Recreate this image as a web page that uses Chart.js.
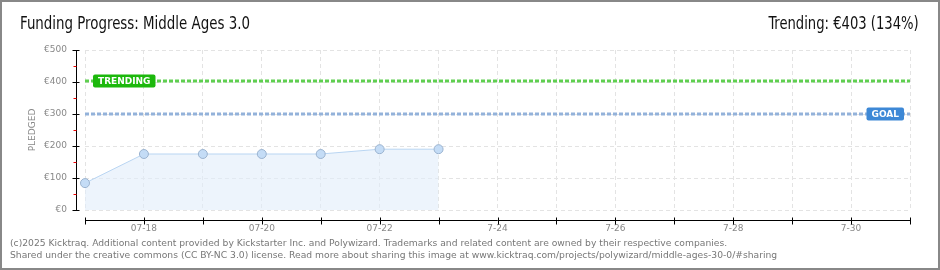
<!DOCTYPE html>
<html><head><meta charset="utf-8">
<script src="https://cdn.jsdelivr.net/npm/chart.js@4/dist/chart.umd.min.js"></script>
<style>
html,body{margin:0;padding:0;background:#fff;}
#wrap{position:relative;width:940px;height:270px;overflow:hidden;}
#frame{position:absolute;left:0;top:0;width:940px;height:270px;box-sizing:border-box;border:2px solid #888;pointer-events:none;}
canvas{position:absolute;left:0;top:0;}
.title{position:absolute;top:13px;font-family:"Liberation Sans Narrow","DejaVu Sans Condensed",sans-serif;font-size:17px;color:#111;white-space:nowrap;}
#tl{left:20px;transform:scaleX(0.875);transform-origin:left center;}
#tr{right:21px;transform:scaleX(0.86);transform-origin:right center;}
.foot{position:absolute;left:10px;font-family:"DejaVu Sans",sans-serif;font-size:9.2px;color:#777;white-space:nowrap;}
</style></head>
<body>
<div id="wrap">
<canvas id="c" width="940" height="270"></canvas>
<div class="title" id="tl">Funding Progress: Middle Ages 3.0</div>
<div class="title" id="tr">Trending: €403 (134%)</div>
<div class="foot" style="top:237px">(c)2025 Kicktraq. Additional content provided by Kickstarter Inc. and Polywizard. Trademarks and related content are owned by their respective companies.</div>
<div class="foot" style="top:249px">Shared under the creative commons (CC BY-NC 3.0) license. Read more about sharing this image at www.kicktraq.com/projects/polywizard/middle-ages-30-0/#sharing</div>
<div id="frame"></div>
</div>
<script>
const dates = ['07-17','07-18','07-19','07-20','07-21','07-22','07-23','07-24','07-25','07-26','07-27','07-28','07-29','07-30','07-31'];
const tickLabels = ['','07-18','','07-20','','07-22','','7-24','','7-26','','7-28','','7-30',''];
const pledged = [84,175,175,175,175,190,190];
const trendValue = 403;
const goalValue = 300;
const yTicks = [0,100,200,300,400,500];

const trendLine = dates.map(()=>trendValue);
const goalLine = dates.map(()=>goalValue);

const axesPlugin = {
  id:'customAxes',
  afterDraw(chart){
    const ctx = chart.ctx, a = chart.chartArea;
    const xs = chart.scales.x, ys = chart.scales.y;
    ctx.save();
    ctx.strokeStyle = '#000'; ctx.lineWidth = 1;
    const ax = Math.round(a.left) - 8.5;
    ctx.beginPath(); ctx.moveTo(ax, ys.getPixelForValue(500)); ctx.lineTo(ax, ys.getPixelForValue(0)+1); ctx.stroke();
    yTicks.forEach(v=>{
      const y = Math.round(ys.getPixelForValue(v))+0.5;
      ctx.strokeStyle='#000'; ctx.beginPath(); ctx.moveTo(ax-4, y); ctx.lineTo(ax+3, y); ctx.stroke();
      if (v < 500){
        const ym = Math.round(ys.getPixelForValue(v+50))+0.5;
        ctx.strokeStyle='#e00'; ctx.beginPath(); ctx.moveTo(ax-3, ym); ctx.lineTo(ax, ym); ctx.stroke();
      }
    });
    const ay = Math.round(a.bottom) + 10.5;
    ctx.strokeStyle='#000';
    ctx.beginPath(); ctx.moveTo(xs.getPixelForValue(0), ay); ctx.lineTo(xs.getPixelForValue(dates.length-1), ay); ctx.stroke();
    dates.forEach((d,i)=>{
      const x = Math.round(xs.getPixelForValue(i))+0.5;
      ctx.beginPath(); ctx.moveTo(x, ay-3); ctx.lineTo(x, ay+4); ctx.stroke();
    });
    function tag(text, color, x, y, alignRight){
      ctx.font = 'bold 9px "DejaVu Sans", sans-serif';
      const w = ctx.measureText(text).width + 10, h = 13;
      const left = alignRight ? x - w : x;
      ctx.fillStyle = color;
      ctx.beginPath();
      if (ctx.roundRect) ctx.roundRect(left, y - h/2, w, h, 2); else ctx.rect(left, y-h/2, w, h);
      ctx.fill();
      ctx.fillStyle = '#fff'; ctx.textBaseline='middle'; ctx.textAlign='left';
      ctx.fillText(text, left+5, y+0.5);
    }
    tag('TRENDING', '#1cb80c', xs.getPixelForValue(0)+8, ys.getPixelForValue(trendValue), false);
    tag('GOAL', '#3d88d6', xs.getPixelForValue(dates.length-1)-6, ys.getPixelForValue(goalValue), true);
    ctx.restore();
  }
};

new Chart(document.getElementById('c'), {
  type:'line',
  data:{
    labels: dates,
    datasets:[
      {data: trendLine, borderColor:'#5fcf50', borderWidth:3, borderDash:[4,2], pointRadius:0, fill:false, order:2},
      {data: goalLine, borderColor:'#93b2da', borderWidth:3, borderDash:[4,2], pointRadius:0, fill:false, order:3},
      {data: pledged, borderColor:'#b9d5f2', borderWidth:1, backgroundColor:'rgba(225,237,250,0.6)', fill:'origin',
       pointRadius:4.5, pointBackgroundColor:'#c4dcf6', pointBorderColor:'#9bb3cf', pointBorderWidth:1, tension:0, order:1}
    ]
  },
  options:{
    responsive:false, animation:false, devicePixelRatio:1,
    layout:{padding:{top:50,right:30,left:0,bottom:0}},
    plugins:{legend:{display:false}, tooltip:{enabled:false}},
    scales:{
      x:{
        offset:false,
        grid:{color:'#e3e3e3', drawTicks:false, tickLength:0},
        border:{display:false, dash:[4,3]},
        ticks:{autoSkip:false, maxRotation:0, padding:13, color:'#888', font:{family:'"DejaVu Sans", sans-serif', size:9},
          callback:(v,i)=>tickLabels[i]},
        afterFit:s=>{s.height=60;}
      },
      y:{
        min:0, max:500,
        grid:{color:'#e3e3e3', drawTicks:false, tickLength:0},
        border:{display:false, dash:[4,3]},
        ticks:{stepSize:100, padding:18, color:'#888', font:{family:'"DejaVu Sans", sans-serif', size:9},
          callback:v=>'€'+v},
        title:{display:true, text:'PLEDGED', color:'#888', font:{family:'"DejaVu Sans", sans-serif', size:9}, padding:{top:27,bottom:0}},
        afterFit:s=>{s.width=85;}
      }
    }
  },
  plugins:[axesPlugin]
});
</script>
</body></html>
